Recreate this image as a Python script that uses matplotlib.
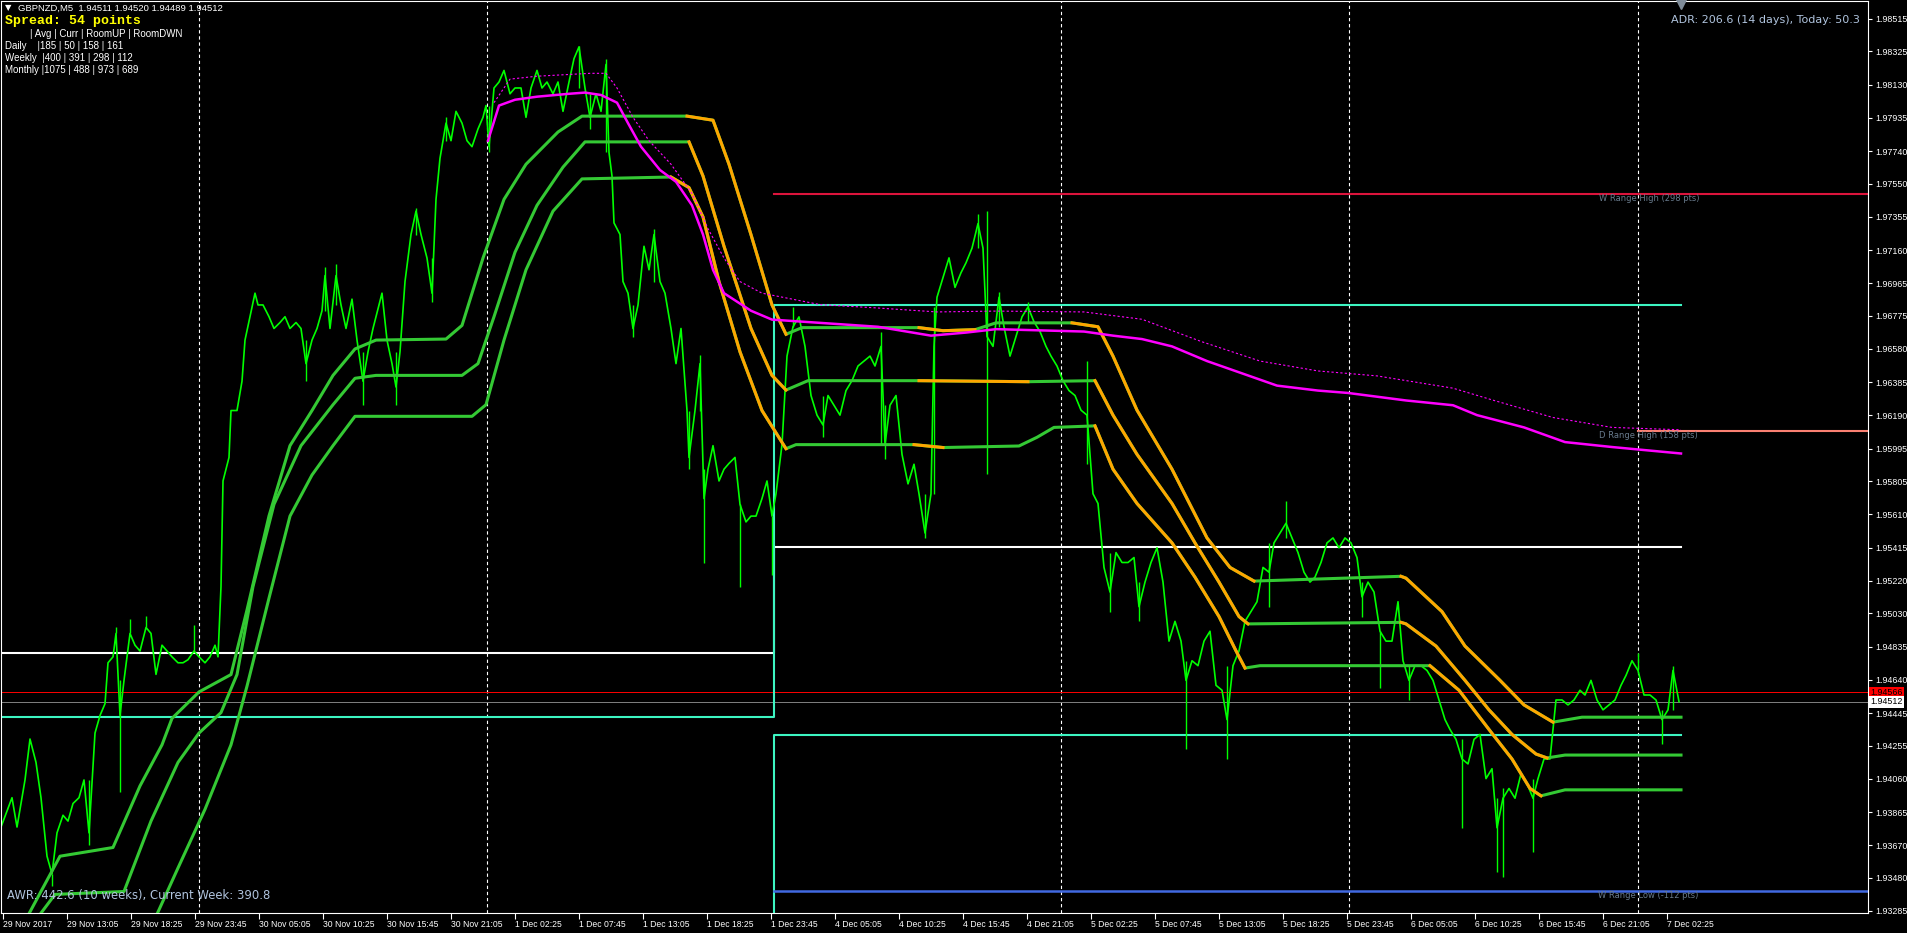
import numpy as np
import matplotlib.pyplot as plt

# ---- GBPNZD M5 closes (x = bar index on chart) ----
price_bars = [0, 11, 16, 24, 29, 35, 40, 46, 51, 56, 62, 67, 72, 78, 83, 88, 94, 99, 104, 107,
              112, 115, 119, 123, 129, 134, 139, 145, 150, 155, 161, 166, 171, 177, 182, 187, 193, 198, 204, 209,
              214, 217, 220, 222, 228, 230, 236, 241, 244, 249, 254, 257, 262, 268, 273, 279, 284, 289, 295, 300,
              305, 311, 316, 321, 324, 329, 335, 340, 345, 351, 356, 362, 367, 372, 378, 381, 386, 391, 395, 399,
              404, 410, 415, 420, 426, 431, 435, 439, 445, 450, 455, 461, 466, 471, 477, 482, 485, 488, 493, 498,
              503, 509, 514, 520, 525, 530, 536, 541, 546, 552, 557, 562, 568, 573, 578, 584, 589, 595, 600, 605,
              608, 611, 613, 619, 622, 627, 632, 637, 643, 648, 653, 659, 664, 670, 675, 680, 686, 688, 694, 699,
              703, 707, 712, 718, 723, 728, 734, 739, 745, 750, 755, 761, 766, 771,
              775, 781, 786, 792, 798, 804, 810, 816, 822, 827, 833, 839, 845, 851, 857, 863, 869, 874, 880, 884,
              889, 895, 901, 907, 913, 918, 924, 930, 933, 936, 942, 948, 954, 960, 965, 971, 977, 982, 986, 992,
              998, 1003, 1009, 1015, 1021, 1027, 1033, 1039, 1045, 1050, 1056, 1062, 1068, 1074, 1080, 1086, 1092, 1097, 1103, 1109,
              1115, 1121, 1127, 1133, 1138, 1144, 1150, 1156, 1162, 1168, 1174, 1180, 1185, 1191, 1197, 1203, 1209, 1215, 1221, 1226,
              1232, 1238, 1244, 1250, 1256, 1262, 1268, 1273, 1279, 1285, 1291, 1297, 1303, 1309, 1314, 1320, 1326, 1332, 1338, 1344,
              1350, 1356, 1361, 1367, 1373, 1379, 1385, 1391, 1397, 1402, 1408, 1414, 1420, 1426, 1432, 1438, 1444, 1449, 1455, 1461,
              1467, 1473, 1479, 1485, 1491, 1496, 1502, 1508, 1514, 1520, 1526, 1532, 1537, 1543, 1549, 1555, 1561, 1567, 1573, 1579,
              1584, 1590, 1596, 1602, 1608, 1614, 1620, 1625, 1631, 1637, 1643, 1649, 1655, 1661, 1667, 1672, 1678]
price_close = [1.93777, 1.93949, 1.93777, 1.94053, 1.94293, 1.94156, 1.93949, 1.93606, 1.93502, 1.93743,
               1.93846, 1.93812, 1.93915, 1.93949, 1.94053, 1.93743, 1.94328, 1.94431, 1.94500, 1.94740,
               1.94775, 1.94912, 1.94431, 1.94637, 1.94912, 1.94843, 1.94809, 1.94947, 1.94912, 1.94672,
               1.94843, 1.94809, 1.94775, 1.94740, 1.94740, 1.94758, 1.94809, 1.94775, 1.94740, 1.94775,
               1.94843, 1.94775, 1.95187, 1.95806, 1.95944, 1.96219, 1.96219, 1.96391, 1.96632, 1.96769,
               1.96907, 1.96838, 1.96838, 1.96769, 1.96700, 1.96735, 1.96769, 1.96700, 1.96735, 1.96700,
               1.96494, 1.96632, 1.96700, 1.96804, 1.97010, 1.96700, 1.97010, 1.96838, 1.96700, 1.96872,
               1.96632, 1.96391, 1.96563, 1.96700, 1.96838, 1.96907, 1.96632, 1.96494, 1.96357, 1.96563,
               1.96975, 1.97251, 1.97388, 1.97251, 1.97113, 1.96907, 1.97457, 1.97698, 1.97904, 1.97801,
               1.97973, 1.97904, 1.97801, 1.97766, 1.97870, 1.97938, 1.98007, 1.97766, 1.98110, 1.98145,
               1.98213, 1.98076, 1.98110, 1.98110, 1.97938, 1.98110, 1.98213, 1.98110, 1.98145, 1.98076,
               1.98145, 1.97973, 1.98145, 1.98282, 1.98351, 1.98110, 1.97938, 1.98076, 1.97973, 1.98248,
               1.97732, 1.97594, 1.97319, 1.97251, 1.96975, 1.96907, 1.96700, 1.96838, 1.97182, 1.97044,
               1.97251, 1.96975, 1.96907, 1.96700, 1.96494, 1.96700, 1.96219, 1.95944, 1.96219, 1.96494,
               1.95703, 1.95875, 1.96013, 1.95806, 1.95875, 1.95909, 1.95944, 1.95669, 1.95566, 1.95600,
               1.95600, 1.95703, 1.95806, 1.95600,
               1.95731, 1.96019, 1.96538, 1.96710, 1.96768, 1.96595, 1.96307, 1.96192, 1.96134, 1.96307,
               1.96250, 1.96192, 1.96336, 1.96394, 1.96480, 1.96509, 1.96538, 1.96480, 1.96595, 1.96019,
               1.96250, 1.96307, 1.95962, 1.95789, 1.95904, 1.95731, 1.95501, 1.95731, 1.96595, 1.96883,
               1.96998, 1.97114, 1.96941, 1.97027, 1.97085, 1.97171, 1.97315, 1.97171, 1.96653, 1.96595,
               1.96883, 1.96710, 1.96538, 1.96653, 1.96768, 1.96826, 1.96739, 1.96682, 1.96595, 1.96538,
               1.96480, 1.96394, 1.96336, 1.96307, 1.96221, 1.96192, 1.95731, 1.95674, 1.95299, 1.95155,
               1.95386, 1.95328, 1.95328, 1.95357, 1.95069, 1.95213, 1.95328, 1.95414, 1.95213, 1.94867,
               1.94983, 1.94867, 1.94637, 1.94752, 1.94723, 1.94867, 1.94925, 1.94608, 1.94579, 1.94407,
               1.94723, 1.94810, 1.94983, 1.95040, 1.95098, 1.95299, 1.95271, 1.95443, 1.95501, 1.95558,
               1.95472, 1.95386, 1.95271, 1.95213, 1.95242, 1.95328, 1.95443, 1.95472, 1.95414, 1.95472,
               1.95443, 1.95357, 1.95127, 1.95213, 1.95155, 1.94925, 1.94867, 1.94867, 1.95098, 1.94752,
               1.94637, 1.94723, 1.94723, 1.94695, 1.94637, 1.94522, 1.94407, 1.94349, 1.94291, 1.94176,
               1.94147, 1.94291, 1.94320, 1.94061, 1.94119, 1.93773, 1.93946, 1.94003, 1.93946, 1.94090,
               1.94032, 1.93946, 1.94061, 1.94176, 1.94176, 1.94522, 1.94522, 1.94493, 1.94522, 1.94579,
               1.94551, 1.94637, 1.94522, 1.94464, 1.94493, 1.94522, 1.94608, 1.94666, 1.94752, 1.94695,
               1.94551, 1.94551, 1.94522, 1.94407, 1.94464, 1.94695, 1.94512]

# long wicks
spike_bars = [51, 88, 115, 119, 129, 145, 193, 305, 324, 335, 362, 395, 415, 431, 445, 488, 578, 589, 605, 632,
              653, 688, 699, 703, 739, 771, 792, 822, 880, 884, 924, 933, 977, 986, 998, 1027, 1086, 1109, 1138, 1185,
              1226, 1268, 1285, 1361, 1379, 1408, 1461, 1496, 1502, 1532, 1637, 1661, 1672]
spike_lo = [1.93434, 1.93674, 1.94912, 1.93984, 1.94912, 1.94947, 1.94809, 1.96391, 1.96804, 1.96838,
            1.96253, 1.96253, 1.97251, 1.96855, 1.97801, 1.97732, 1.98110, 1.97870, 1.97732, 1.96649,
            1.96975, 1.95875, 1.96219, 1.95325, 1.95187, 1.95256, 1.96710, 1.96062, 1.96019, 1.95933,
            1.95472, 1.95731, 1.97171, 1.95846, 1.96710, 1.96739, 1.95904, 1.95040, 1.94983, 1.94234,
            1.94176, 1.95069, 1.95472, 1.95011, 1.94594, 1.94522, 1.93773, 1.93514, 1.93485, 1.93629,
            1.94695, 1.94262, 1.94464]
spike_hi = [1.93502, 1.94053, 1.94947, 1.94637, 1.94998, 1.95015, 1.94964, 1.96632, 1.97061, 1.97079,
            1.96563, 1.96563, 1.97405, 1.97113, 1.97938, 1.98007, 1.98358, 1.98076, 1.98282, 1.96838,
            1.97285, 1.96219, 1.96546, 1.95875, 1.95669, 1.95600, 1.96826, 1.96307, 1.96682, 1.96250,
            1.95731, 1.96826, 1.97373, 1.97387, 1.96912, 1.96854, 1.96509, 1.95386, 1.95213, 1.94752,
            1.94723, 1.95443, 1.95688, 1.95213, 1.94925, 1.94723, 1.94291, 1.93946, 1.94003, 1.94061,
            1.94795, 1.94464, 1.94723]

# ---- step channel (green = up, orange = down) ----
upper_bars = [21, 59, 112, 139, 161, 171, 198, 214, 230, 246, 268, 289, 311, 332, 354, 375, 445, 461, 482, 503,
              525, 557, 581, 686, 712, 728, 750, 771, 785, 801, 918, 942, 974, 995, 1071, 1097, 1112, 1136, 1171, 1206,
              1229, 1253, 1400, 1405, 1441, 1464, 1499, 1523, 1552, 1581, 1680]
upper_vals = [1.93193, 1.93606, 1.93657, 1.94018, 1.94259, 1.94414, 1.94569, 1.94620, 1.94671, 1.95050,
              1.95601, 1.96013, 1.96219, 1.96425, 1.96580, 1.96632, 1.96638, 1.96718, 1.97113, 1.97457,
              1.97663, 1.97852, 1.97945, 1.97945, 1.97921, 1.97663, 1.97250, 1.96838, 1.96666, 1.96705,
              1.96705, 1.96687, 1.96693, 1.96733, 1.96733, 1.96710, 1.96538, 1.96221, 1.95875, 1.95472,
              1.95299, 1.95219, 1.95247, 1.95236, 1.95040, 1.94838, 1.94637, 1.94493, 1.94392, 1.94421, 1.94421]
upper_down = [(686, 785), (918, 974), (1071, 1253), (1400, 1552)]

mid_bars = [32, 54, 123, 150, 177, 198, 220, 236, 252, 273, 300, 332, 354, 375, 461, 477, 493, 514, 536, 562,
            584, 688, 702, 723, 750, 771, 785, 807, 918, 1027, 1094, 1112, 1136, 1171, 1194, 1218, 1238, 1247, 1400, 1405,
            1435, 1464, 1488, 1511, 1535, 1546, 1564, 1680]
mid_vals = [1.93210, 1.93382, 1.93399, 1.93812, 1.94156, 1.94328, 1.94448, 1.94671, 1.95187, 1.95669,
            1.96013, 1.96253, 1.96408, 1.96425, 1.96425, 1.96494, 1.96769, 1.97147, 1.97422, 1.97646,
            1.97794, 1.97794, 1.97594, 1.97182, 1.96700, 1.96425, 1.96339, 1.96394, 1.96394, 1.96388,
            1.96394, 1.96192, 1.95962, 1.95674, 1.95443, 1.95213, 1.95011, 1.94968, 1.94977, 1.94968,
            1.94838, 1.94637, 1.94464, 1.94320, 1.94205, 1.94182, 1.94199, 1.94199]
mid_down = [(688, 785), (918, 1027), (1094, 1247), (1400, 1546)]

lower_bars = [145, 177, 204, 230, 246, 268, 289, 311, 332, 354, 471, 485, 503, 525, 552, 581, 670, 688, 702, 718,
              739, 761, 785, 795, 913, 942, 1018, 1036, 1053, 1094, 1112, 1136, 1171, 1194, 1218, 1235, 1244, 1259, 1429, 1458,
              1488, 1511, 1529, 1540, 1564, 1680]
lower_vals = [1.93124, 1.93537, 1.93881, 1.94259, 1.94603, 1.95119, 1.95600, 1.95841, 1.96013, 1.96185,
              1.96185, 1.96253, 1.96632, 1.97044, 1.97388, 1.97577, 1.97588, 1.97526, 1.97354, 1.96975,
              1.96563, 1.96219, 1.95995, 1.96019, 1.96019, 1.96002, 1.96011, 1.96062, 1.96120, 1.96129,
              1.95875, 1.95674, 1.95443, 1.95242, 1.95011, 1.94810, 1.94709, 1.94723, 1.94723, 1.94579,
              1.94349, 1.94176, 1.94003, 1.93960, 1.93995, 1.93995]
lower_down = [(670, 785), (913, 942), (1094, 1244), (1429, 1540)]

# ---- moving averages ----
ma_bars = [487, 498, 514, 536, 568, 584, 600, 616, 627, 640, 659, 675, 691, 702, 712, 723, 750, 771,
           819, 877, 930, 965, 995, 1083, 1112, 1141, 1171, 1206, 1241, 1276, 1317, 1347, 1405, 1452, 1476,
           1523, 1564, 1611, 1680]
ma_vals = [1.97801, 1.98007, 1.98041, 1.98059, 1.98076, 1.98083, 1.98069, 1.98024, 1.97904, 1.97766,
           1.97629, 1.97560, 1.97422, 1.97251, 1.97044, 1.96907, 1.96804, 1.96752,
           1.96733, 1.96710, 1.96658, 1.96676, 1.96696, 1.96682, 1.96658, 1.96638, 1.96595, 1.96509,
           1.96437, 1.96365, 1.96336, 1.96322, 1.96278, 1.96250, 1.96192, 1.96120, 1.96034, 1.96005, 1.95967]
ma2_bars = [493, 509, 536, 589, 605, 616, 632, 648, 670, 691, 707, 723, 739, 761, 819, 877, 936, 995,
            1083, 1141, 1200, 1259, 1317, 1376, 1452, 1493, 1552, 1611, 1680]
ma2_vals = [1.98024, 1.98162, 1.98179, 1.98196, 1.98196, 1.98110, 1.97938, 1.97801, 1.97663, 1.97491,
            1.97285, 1.97113, 1.96975, 1.96907, 1.96840, 1.96820, 1.96797, 1.96802, 1.96797, 1.96754,
            1.96624, 1.96509, 1.96451, 1.96422, 1.96350, 1.96278, 1.96178, 1.96120, 1.96106]

# ---- levels ----
week_start = 773
last_bar = 1680
prev_white, cur_white = 1.94800, 1.95418
prev_cyan, cur_cyan_hi, cur_cyan_lo = 1.94424, 1.96838, 1.94314
w_range_high, d_range_high, w_range_low = 1.97491, 1.96101, 1.93404
ask_price, bid_price = 1.94566, 1.94512
d_start = 1637
day_seps = [198, 486, 1060, 1348, 1637]

y_labels = ['1.98515', '1.98325', '1.98130', '1.97935', '1.97740', '1.97550', '1.97355', '1.97160',
            '1.96965', '1.96775', '1.96580', '1.96385', '1.96190', '1.95995', '1.95805', '1.95610',
            '1.95415', '1.95220', '1.95030', '1.94835', '1.94640', '1.94445', '1.94255', '1.94060',
            '1.93865', '1.93670', '1.93480', '1.93285']
x_labels = ['29 Nov 2017', '29 Nov 13:05', '29 Nov 18:25', '29 Nov 23:45', '30 Nov 05:05', '30 Nov 10:25',
            '30 Nov 15:45', '30 Nov 21:05', '1 Dec 02:25', '1 Dec 07:45', '1 Dec 13:05', '1 Dec 18:25',
            '1 Dec 23:45', '4 Dec 05:05', '4 Dec 10:25', '4 Dec 15:45', '4 Dec 21:05', '5 Dec 02:25',
            '5 Dec 07:45', '5 Dec 13:05', '5 Dec 18:25', '5 Dec 23:45', '6 Dec 05:05', '6 Dec 10:25',
            '6 Dec 15:45', '6 Dec 21:05', '7 Dec 02:25']

W, H = 1908, 933
fig = plt.figure(figsize=(W / 100, H / 100), dpi=100, facecolor='black')
ax = fig.add_axes([1 / W, (H - 913) / H, 1867 / W, 912 / H], facecolor='black')
ax.set_xlim(0, 1867)
ax.set_ylim(1.93273, 1.98620)

tick_font = 'Liberation Sans'

# separators
for d in day_seps:
    ax.axvline(d, color='white', lw=0.8, ls=(0, (3, 2.5)), zorder=1)

# weekly / daily levels
ax.plot([0, week_start, week_start, last_bar], [prev_white, prev_white, cur_white, cur_white],
        color='white', lw=1.5, zorder=1.5)
ax.plot([0, week_start, week_start, last_bar], [prev_cyan, prev_cyan, cur_cyan_hi, cur_cyan_hi],
        color='#3DF5C2', lw=1.5, zorder=1.5)
ax.plot([week_start, week_start, last_bar], [1.93, cur_cyan_lo, cur_cyan_lo],
        color='#3DF5C2', lw=1.5, zorder=1.5)
ax.plot([week_start, 1867], [w_range_high] * 2, color='#DC143C', lw=1.5, zorder=1.5)
ax.plot([d_start, 1867], [d_range_high] * 2, color='#FA8072', lw=1.5, zorder=1.5)
ax.plot([week_start, 1867], [w_range_low] * 2, color='#4169E1', lw=1.8, zorder=1.5)
ax.axhline(ask_price, color='#FF0000', lw=0.7, zorder=1.4)
ax.axhline(bid_price, color='#808080', lw=0.7, zorder=1.4)

# price
ax.plot(price_bars, price_close, color='#00FF00', lw=1.2, zorder=2)
ax.vlines(spike_bars, spike_lo, spike_hi, color='#00FF00', lw=1.0, zorder=2)

# channel
def band(bars, vals, down):
    bars = np.array(bars)
    vals = np.array(vals)
    ax.plot(bars, vals, color='#34C934', lw=2.2, zorder=3, solid_joinstyle='round')
    for a, b in down:
        m = (bars >= a) & (bars <= b)
        ax.plot(bars[m], vals[m], color='#FFA500', lw=2.2, zorder=3.1, solid_joinstyle='round')

band(upper_bars, upper_vals, upper_down)
band(mid_bars, mid_vals, mid_down)
band(lower_bars, lower_vals, lower_down)

ax.plot(ma_bars, ma_vals, color='#FF00FF', lw=1.8, zorder=3.2)
ax.plot(ma2_bars, ma2_vals, color='#FF00FF', lw=0.8, ls=(0, (2, 2)), zorder=3.2)

# axes styling
for s in ax.spines.values():
    s.set_color('white')
    s.set_linewidth(0.8)
ax.yaxis.tick_right()
ax.set_yticks([float(v) for v in y_labels])
ax.set_yticklabels(y_labels, family=tick_font, fontsize=6.4, color='white')
ax.set_xticks(2 + 64 * np.arange(len(x_labels)))
ax.set_xticklabels(x_labels, family=tick_font, fontsize=6.2, color='white', ha='left')
ax.tick_params(axis='y', colors='white', length=3, width=0.8, pad=2)
ax.tick_params(axis='x', colors='white', length=4, width=0.8, pad=1)

# price boxes
for p, s, fc in [(ask_price, '1.94566', '#FF0000'), (bid_price, '1.94512', 'white')]:
    ax.text(1.0012, p, s, transform=ax.get_yaxis_transform(), va='center', ha='left',
            fontsize=6.4, family=tick_font, color='black', clip_on=False, zorder=5,
            bbox=dict(facecolor=fc, edgecolor='none', pad=1.0))

# chart shift marker
ax.plot([last_bar], [0.997], marker='v', ms=7, color='#7F8C99', transform=ax.get_xaxis_transform(),
        clip_on=False, zorder=5)

# range labels
lab = dict(fontsize=6, color='#687A8C', va='center', ha='left', family='DejaVu Sans')
ax.text(1598, w_range_high - 0.00028, 'W Range High (298 pts)', **lab)
ax.text(1598, d_range_high - 0.00028, 'D Range High (158 pts)', **lab)
ax.text(1597, w_range_low - 0.00028, 'W Range Low (-112 pts)', **lab)

# overlay texts
def ftxt(x, y, s, **kw):
    fig.text(x / W, 1 - y / H, s, va='center', **kw)

ftxt(5, 8, '\u25bc', fontsize=6, color='white', family='DejaVu Sans')
ftxt(18, 8, 'GBPNZD,M5  1.94511 1.94520 1.94489 1.94512', fontsize=6.8, color='white', family=tick_font)
ftxt(5, 21, 'Spread: 54 points', fontsize=9.5, color='#FFFF00', family='Liberation Mono', weight='bold')
ftxt(30, 34, '| Avg | Curr | RoomUP | RoomDWN', fontsize=7, color='white', family=tick_font)
ftxt(5, 46, 'Daily    |185 | 50 | 158 | 161', fontsize=7, color='white', family=tick_font)
ftxt(5, 58, 'Weekly  |400 | 391 | 298 | 112', fontsize=7, color='white', family=tick_font)
ftxt(5, 70, 'Monthly |1075 | 488 | 973 | 689', fontsize=7, color='white', family=tick_font)
ftxt(1860, 20, 'ADR: 206.6 (14 days), Today: 50.3', fontsize=8, color='#B0C4DE', family='DejaVu Sans', ha='right')
ftxt(7, 895, 'AWR: 442.6 (10 weeks), Current Week: 390.8', fontsize=8.4, color='#B0C4DE', family='DejaVu Sans')

fig.savefig('out.png', dpi=100, facecolor='black')
